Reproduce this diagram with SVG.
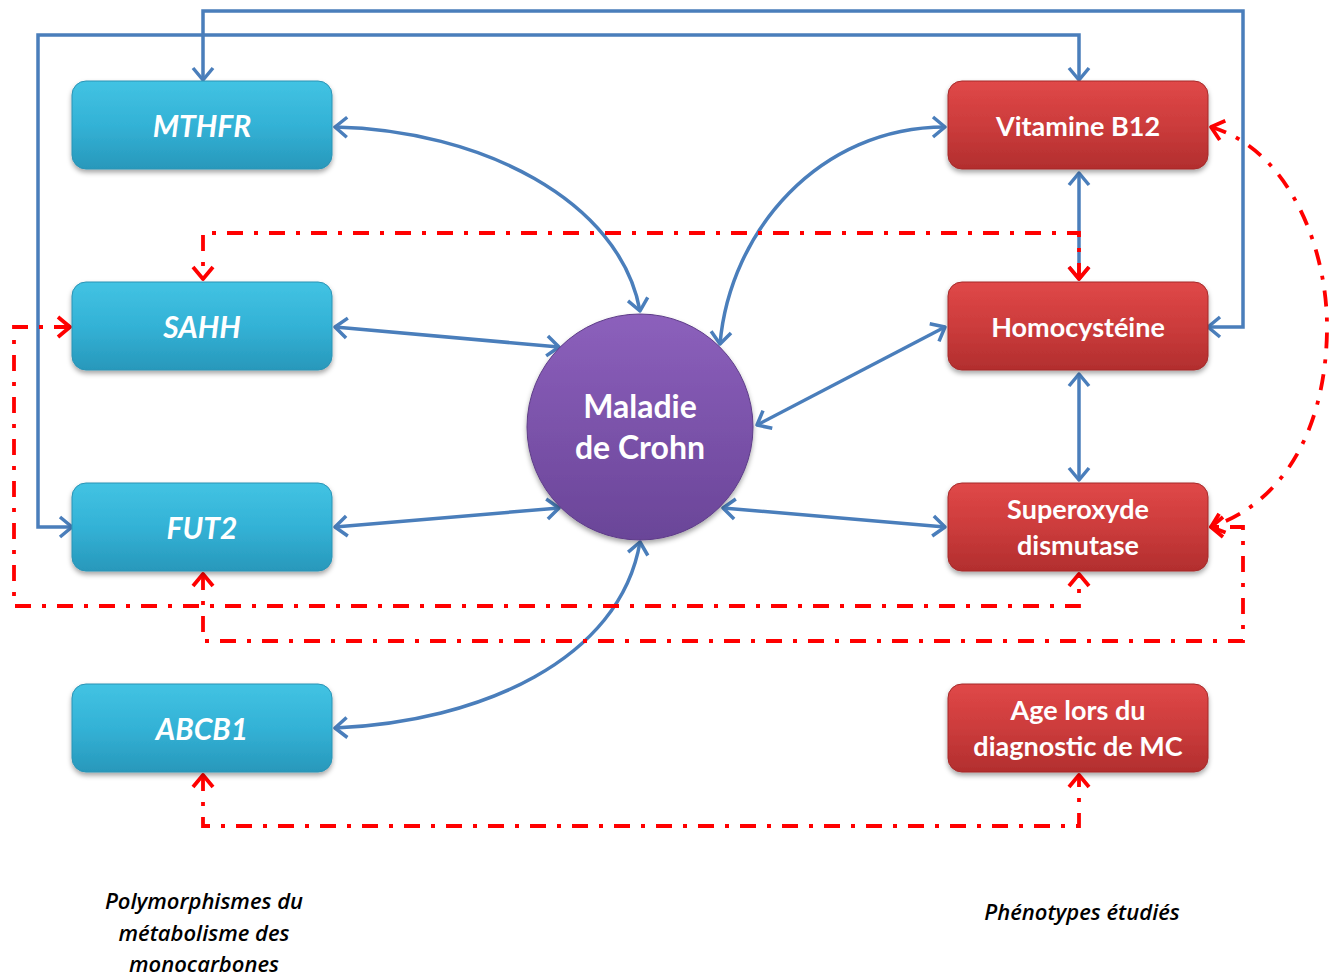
<svg xmlns="http://www.w3.org/2000/svg" width="1338" height="978" viewBox="0 0 1338 978">
<defs>
<linearGradient id="gb" x1="0" y1="0" x2="0" y2="1"><stop offset="0" stop-color="#42c3e3"/><stop offset="0.5" stop-color="#33b2d6"/><stop offset="1" stop-color="#2898bb"/></linearGradient>
<linearGradient id="gr" x1="0" y1="0" x2="0" y2="1"><stop offset="0" stop-color="#e04848"/><stop offset="0.5" stop-color="#cc3c3c"/><stop offset="1" stop-color="#b22e2e"/></linearGradient>
<linearGradient id="gp" x1="0" y1="0" x2="0" y2="1"><stop offset="0" stop-color="#8c60bc"/><stop offset="1" stop-color="#6a4598"/></linearGradient>
<filter id="sh" x="-10%" y="-10%" width="120%" height="130%"><feDropShadow dx="0" dy="3" stdDeviation="2.5" flood-color="#000" flood-opacity="0.35"/></filter>
<marker id="ab" viewBox="-15 -12 17 24" refX="0" refY="0" markerWidth="17" markerHeight="24" markerUnits="userSpaceOnUse" orient="auto-start-reverse"><path d="M-12,-10 L0,0 L-12,10" fill="none" stroke="#4a7ebb" stroke-width="3.5" stroke-linejoin="round"/></marker>
<marker id="ar" viewBox="-15 -12 17 24" refX="0" refY="0" markerWidth="17" markerHeight="24" markerUnits="userSpaceOnUse" orient="auto-start-reverse"><path d="M-12,-10 L0,0 L-12,10" fill="none" stroke="#ff0000" stroke-width="3.8" stroke-linejoin="round"/></marker>
</defs>
<style>
.bb{fill:url(#gb);stroke:#2a93b5;stroke-width:1;filter:url(#sh)}
.rb{fill:url(#gr);stroke:#a52a2a;stroke-width:1;filter:url(#sh)}
.t{font-family:Lato,"Open Sans","Liberation Sans",sans-serif;font-weight:bold;fill:#fff;text-anchor:middle;font-size:27px}
.ti{font-style:italic;font-size:30px}
.b{fill:none;stroke:#4a7ebb;stroke-width:3.5}
.r{fill:none;stroke:#ff0000;stroke-width:3.8;stroke-dasharray:16 11 4 11}
.lab{font-family:"Open Sans","Liberation Sans",sans-serif;font-style:italic;font-weight:600;font-size:22px;fill:#000;text-anchor:middle}
</style>
<rect width="1338" height="978" fill="#fff"/>
<g id="connectors">
<path class="b" d="M1208,327 H1243 V11 H203 V80" marker-start="url(#ab)" marker-end="url(#ab)"/>
<path class="b" d="M72,527 H38 V35 H1079 V80" marker-start="url(#ab)" marker-end="url(#ab)"/>
<path class="b" d="M335,127 C480,130 620,200 640,311" marker-start="url(#ab)" marker-end="url(#ab)"/>
<path class="b" d="M945,127 C820,127 730,230 720,344" marker-start="url(#ab)" marker-end="url(#ab)"/>
<path class="b" d="M335,327 L559,347" marker-start="url(#ab)" marker-end="url(#ab)"/>
<path class="b" d="M335,527 L559,508" marker-start="url(#ab)" marker-end="url(#ab)"/>
<path class="b" d="M945,327 L757,425" marker-start="url(#ab)" marker-end="url(#ab)"/>
<path class="b" d="M945,527 L723,508" marker-start="url(#ab)" marker-end="url(#ab)"/>
<path class="b" d="M335,728 C480,722 620,660 640,542" marker-start="url(#ab)" marker-end="url(#ab)"/>
<path class="b" d="M1079,173 V279" marker-start="url(#ab)" marker-end="url(#ab)"/>
<path class="b" d="M1079,374 V480" marker-start="url(#ab)" marker-end="url(#ab)"/>
<path class="r" d="M1079,279 V233 H203 V279" marker-start="url(#ar)" marker-end="url(#ar)"/>
<path class="r" d="M1211,127 C1290,150 1328,250 1327,330 C1326,420 1290,500 1211,527" marker-start="url(#ar)" marker-end="url(#ar)"/>
<path class="r" d="M70,327 H14 V606 H1079 V574" marker-start="url(#ar)" marker-end="url(#ar)"/>
<path class="r" d="M203,574 V641 H1243 V527 H1211" marker-start="url(#ar)" marker-end="url(#ar)"/>
<path class="r" d="M203,775 V826 H1079 V775" marker-start="url(#ar)" marker-end="url(#ar)"/>
</g>
<g id="n-mthfr"><rect class="bb" x="72" y="81" width="260" height="88" rx="14"/><text class="t ti" x="202" y="137">MTHFR</text></g>
<g id="n-sahh"><rect class="bb" x="72" y="282" width="260" height="88" rx="14"/><text class="t ti" x="202" y="338">SAHH</text></g>
<g id="n-fut2"><rect class="bb" x="72" y="483" width="260" height="88" rx="14"/><text class="t ti" x="202" y="539">FUT2</text></g>
<g id="n-abcb1"><rect class="bb" x="72" y="684" width="260" height="88" rx="14"/><text class="t ti" x="202" y="740">ABCB1</text></g>
<g id="n-b12"><rect class="rb" x="948" y="81" width="260" height="88" rx="14"/><text class="t" x="1078" y="136">Vitamine B12</text></g>
<g id="n-homo"><rect class="rb" x="948" y="282" width="260" height="88" rx="14"/><text class="t" x="1078" y="337">Homocystéine</text></g>
<g id="n-sod"><rect class="rb" x="948" y="483" width="260" height="88" rx="14"/><text class="t" x="1078" y="519">Superoxyde</text><text class="t" x="1078" y="555">dismutase</text></g>
<g id="n-age"><rect class="rb" x="948" y="684" width="260" height="88" rx="14"/><text class="t" x="1078" y="720">Age lors du</text><text class="t" x="1078" y="756">diagnostic de MC</text></g>
<g id="n-crohn"><circle cx="640" cy="427" r="113" fill="url(#gp)" stroke="#5e3d88" stroke-width="1" filter="url(#sh)"/><text class="t" x="640" y="418" style="font-size:32px">Maladie</text><text class="t" x="640" y="459" style="font-size:32px">de Crohn</text></g>
<g id="labels">
<text class="lab" x="204" y="909">Polymorphismes du</text>
<text class="lab" x="204" y="941">métabolisme des</text>
<text class="lab" x="204" y="972">monocarbones</text>
<text class="lab" x="1082" y="920">Phénotypes étudiés</text>
</g>
</svg>
